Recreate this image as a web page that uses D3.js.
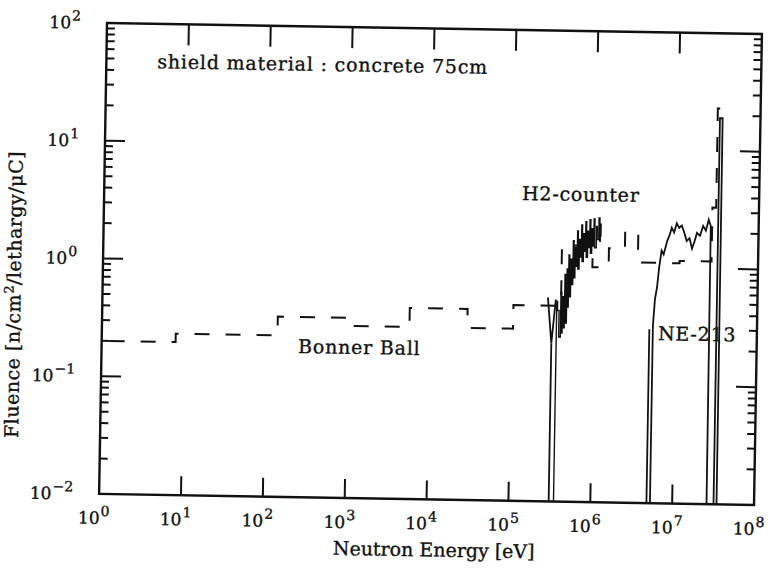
<!DOCTYPE html>
<html>
<head>
<meta charset="utf-8">
<script src="https://cdn.jsdelivr.net/npm/d3@7/dist/d3.min.js"></script>
<style>
  body { margin: 0; background: #fff; }
  text { font-family: "DejaVu Serif", serif; fill: #111; stroke: #111; stroke-width: 0.35; }
</style>
</head>
<body>
<div id="chart"></div>
<script>
        // Bonner Ball spectrum (dashed histogram): bin edges [eV] and fluence per bin
        const bonnerEdges = [1, 8, 140, 1000, 5700, 29000, 1.05e5, 4e5, 9.5e5, 1.5e6, 2.35e6, 3.4e6, 1.1e7, 2.7e7, 3.0e7, 3.3e7];
        const bonnerValues = [0.20, 0.235, 0.34, 0.29, 0.42, 0.29, 0.46, 1.5, 0.99, 1.44, 2.0, 1.1, 1.15, 3.3, 23];

        // H2-counter spectrum (fine bins, very noisy)
        const h2Energy = [3.55e5, 3.55e5, 3.63e5, 3.80e5, 3.98e5, 4.07e5, 4.17e5, 4.27e5, 4.42e5, 4.52e5, 4.68e5, 4.79e5,
            4.90e5, 5.01e5, 5.19e5, 5.31e5, 5.50e5, 5.62e5, 5.82e5, 5.96e5, 6.17e5, 6.31e5, 6.53e5, 6.68e5,
            6.92e5, 7.08e5, 7.33e5, 7.50e5, 7.76e5, 7.94e5, 8.22e5, 8.41e5, 8.71e5, 8.91e5, 9.23e5, 9.44e5,
            9.77e5, 1.0e6, 1.05e6, 1.07e6, 1.12e6, 1.15e6, 1.17e6, 1.19e6];
        const h2Fluence = [1e-4, 0.50, 0.42, 0.25, 0.60, 0.27, 0.55, 0.30, 0.85, 0.33, 0.95, 0.45,
            1.25, 0.55, 1.15, 0.70, 1.65, 0.80, 1.45, 1.0, 2.0, 0.95, 1.7, 1.2,
            2.25, 1.1, 1.9, 1.35, 2.4, 1.2, 2.0, 1.45, 2.5, 1.3, 2.1, 1.5,
            2.55, 1.45, 2.2, 1.7, 2.6, 1.65, 2.3, 1.8];
        // downward arrow at the start of the H2-counter data
        const h2ArrowEnergy = [2.76e5, 3.1e5, 3.45e5];
        const h2ArrowFluence = [0.54, 0.22, 0.52];
        const h2StemEnergy = [3.1e5, 3.1e5];
        const h2StemFluence = [0.22, 1e-4];

        // NE-213 spectrum
        const neEnergy = [4.85e6, 4.85e6, 4.85e6, 5.35e6, 5.35e6, 5.6e6, 5.9e6, 6.2e6, 6.6e6, 7.0e6, 7.7e6, 8.2e6, 8.7e6, 9.3e6,
            1.0e7, 1.07e7, 1.15e7, 1.24e7, 1.33e7, 1.44e7, 1.55e7, 1.66e7, 1.77e7, 1.93e7, 2.1e7, 2.27e7, 2.45e7,
            2.6e7, 2.65e7, 3.2e7, 3.2e7, 3.45e7, 3.5e7];
        const neFluence = [1e-4, 0.30, 1e-4, 1e-4, 0.32, 0.54, 0.68, 1.0, 1.4, 1.3, 1.7, 1.9, 2.2, 2.0,
            2.4, 2.2, 2.3, 2.0, 1.7, 1.8, 1.47, 1.7, 2.0, 1.9, 2.3, 2.1, 2.6,
            2.3, 1e-4, 1e-4, 19, 19, 1e-4];

        const xTicks = [1e0, 1e1, 1e2, 1e3, 1e4, 1e5, 1e6, 1e7, 1e8];
        const yTicks = [1e-2, 1e-1, 1e0, 1e1, 1e2];
        const xTickExp = ["0", "1", "2", "3", "4", "5", "6", "7", "8"];
        const yTickExp = ["\u22122", "\u22121", "0", "1", "2"];

        // Graph dimensions
        const width = 768;
        const height = 568;
        const plotW = 655;
        const plotH = 471;

        const svg = d3.select("#chart")
            .append("svg")
            .attr("width", width)
            .attr("height", height);

        // the scanned figure is tilted by about one degree
        const g = svg.append("g")
            .attr("transform", "translate(107,23) rotate(0.96)");

        const x = d3.scaleLog().domain([1, 1e8]).range([0, plotW]);
        const y = d3.scaleLog().domain([1e-2, 1e2]).range([plotH, 0]);

        g.append("clipPath").attr("id", "clip")
            .append("rect").attr("width", plotW).attr("height", plotH);

        // frame
        g.append("rect")
            .attr("width", plotW)
            .attr("height", plotH)
            .attr("fill", "none")
            .attr("stroke", "#111")
            .attr("stroke-width", 2.4);

        // ticks
        const minorY = [];
        yTicks.slice(0, -1).forEach(t => {
            for (let k = 2; k <= 9; k++) minorY.push(t * k);
        });
        const tickG = g.append("g").attr("stroke", "#111").attr("stroke-width", 2);
        xTicks.slice(1, -1).forEach(t => {
            tickG.append("line").attr("x1", x(t)).attr("x2", x(t)).attr("y1", plotH).attr("y2", plotH - 19);
            tickG.append("line").attr("x1", x(t)).attr("x2", x(t)).attr("y1", 0).attr("y2", 21);
        });
        yTicks.slice(1, -1).forEach(t => {
            tickG.append("line").attr("x1", 0).attr("x2", 20).attr("y1", y(t)).attr("y2", y(t));
            tickG.append("line").attr("x1", plotW).attr("x2", plotW - 20).attr("y1", y(t)).attr("y2", y(t));
        });
        minorY.forEach(t => {
            tickG.append("line").attr("x1", 0).attr("x2", 8).attr("y1", y(t)).attr("y2", y(t));
            tickG.append("line").attr("x1", plotW).attr("x2", plotW - 8).attr("y1", y(t)).attr("y2", y(t));
        });

        // tick labels
        xTicks.forEach((t, i) => {
            const lab = g.append("text")
                .attr("x", x(t) - 5)
                .attr("y", plotH + 30)
                .attr("text-anchor", "middle")
                .attr("font-size", 17);
            lab.append("tspan").text("10");
            lab.append("tspan").attr("dy", -8).attr("dx", 1).attr("font-size", 14).text(xTickExp[i]);
        });
        yTicks.forEach((t, i) => {
            const lab = g.append("text")
                .attr("x", -26)
                .attr("y", y(t) + 6)
                .attr("text-anchor", "end")
                .attr("font-size", 17);
            lab.append("tspan").text("10");
            lab.append("tspan").attr("dy", -8).attr("dx", 1).attr("font-size", 14).text(yTickExp[i]);
        });

        // axis titles
        g.append("text")
            .attr("x", plotW / 2 + 8)
            .attr("y", plotH + 57)
            .attr("text-anchor", "middle")
            .attr("font-size", 19)
            .text("Neutron Energy [eV]");
        const yTitle = g.append("text")
            .attr("transform", `translate(-82,273) rotate(-90)`)
            .attr("text-anchor", "middle")
            .attr("font-size", 19)
            .attr("letter-spacing", 0.5);
        yTitle.append("tspan").text("Fluence [n/cm");
        yTitle.append("tspan").attr("dy", -7).attr("font-size", 13).text("2");
        yTitle.append("tspan").attr("dy", 7).text("/lethargy/\u03bcC]");

        // annotations
        const notes = [
            { text: "shield material : concrete 75cm", e: 4.2, v: 42 },
            { text: "H2-counter", e: 1.27e5, v: 3.6 },
            { text: "NE-213", e: 6.2e6, v: 0.243 },
            { text: "Bonner Ball", e: 251, v: 0.168 }
        ];
        g.selectAll(".note")
            .data(notes)
            .enter()
            .append("text")
            .attr("class", "note")
            .attr("x", d => x(d.e))
            .attr("y", d => y(d.v))
            .attr("font-size", 19)
            .attr("letter-spacing", 0.8)
            .text(d => d.text);

        // data
        const plot = g.append("g").attr("clip-path", "url(#clip)");
        const line = d3.line().x(d => x(d[0])).y(d => y(d[1]));

        const bonnerPts = [];
        bonnerValues.forEach((v, i) => {
            bonnerPts.push([bonnerEdges[i], v]);
            bonnerPts.push([bonnerEdges[i + 1], v]);
        });
        plot.append("path")
            .attr("d", line(bonnerPts))
            .attr("fill", "none")
            .attr("stroke", "#111")
            .attr("stroke-width", 2)
            .attr("stroke-dasharray", "15,16")
            .attr("stroke-dashoffset", 23);

        const solid = (xs, ys, curve, w) => {
            plot.append("path")
                .attr("d", line.curve(curve || d3.curveLinear)(xs.map((e, i) => [e, ys[i]])))
                .attr("fill", "none")
                .attr("stroke", "#111")
                .attr("stroke-width", w || 1.8);
        };
        solid(h2Energy, h2Fluence, d3.curveStepAfter, 1.4);
        solid(h2ArrowEnergy, h2ArrowFluence);
        solid(h2StemEnergy, h2StemFluence);
        solid(neEnergy, neFluence);
</script>
</body>
</html>
